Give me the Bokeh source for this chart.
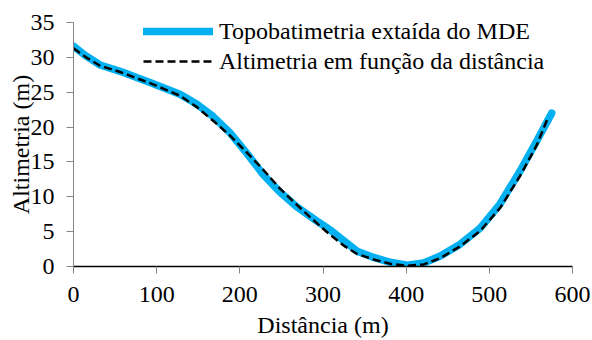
from bokeh.plotting import figure
from bokeh.models import Range1d, FixedTicker, Legend, LegendItem
from bokeh.embed import file_html
from bokeh.resources import INLINE

# Topobatimetria extaída do MDE (blue)
topo_x = [0, 15, 32, 56, 92, 128, 148, 168, 188, 208, 228, 248, 268, 288, 308, 325, 341, 361, 381, 401, 421, 441, 465, 489, 513, 537, 557, 575]
topo_y = [31.6, 30.2, 28.9, 28.0, 26.4, 24.7, 23.3, 21.5, 19.2, 16.3, 13.2, 10.7, 8.6, 6.9, 5.3, 3.7, 2.2, 1.3, 0.6, 0.2, 0.5, 1.5, 3.2, 5.5, 9.0, 13.7, 18.0, 22.0]

# Altimetria em função da distância (black dashed)
alt_x = [0, 15, 32, 56, 92, 128, 148, 168, 188, 208, 228, 248, 268, 288, 308, 325, 341, 361, 381, 401, 421, 441, 465, 489, 513, 537, 557, 570]
alt_y = [31.3, 30.0, 28.8, 27.9, 26.3, 24.5, 22.9, 20.9, 18.8, 16.4, 13.9, 11.2, 8.9, 6.7, 4.6, 3.0, 1.8, 1.0, 0.4, 0.1, 0.3, 1.2, 2.9, 5.1, 8.4, 13.0, 17.4, 21.2]

x_ticks = [0, 100, 200, 300, 400, 500, 600]
y_ticks = [0, 5, 10, 15, 20, 25, 30, 35]

FONT = "Liberation Serif"
FS = "24px"

p = figure(width=592, height=340, output_backend="svg", toolbar_location=None,
           x_range=Range1d(0, 600), y_range=Range1d(0, 35),
           min_border_left=73, min_border_right=20, min_border_top=22, min_border_bottom=69)

p.xgrid.visible = False
p.ygrid.visible = False
p.outline_line_color = None
p.background_fill_color = "white"
p.border_fill_color = "white"

r1 = p.line(topo_x, topo_y, line_color="#00B0F0", line_width=7.5, line_cap="round", line_join="round")
r2 = p.line(alt_x, alt_y, line_color="black", line_width=2.5, line_dash="8 4", line_join="round")

for ax in (p.xaxis[0], p.yaxis[0]):
    ax.major_label_text_font = FONT
    ax.major_label_text_font_size = FS
    ax.major_label_text_color = "black"
    ax.axis_label_text_font = FONT
    ax.axis_label_text_font_size = FS
    ax.axis_label_text_font_style = "normal"
    ax.axis_label_text_color = "black"
    ax.minor_tick_line_color = None
    ax.major_tick_in = 0
    ax.major_tick_out = 7
    ax.major_tick_line_color = "#868686"

p.xaxis[0].ticker = FixedTicker(ticks=x_ticks)
p.yaxis[0].ticker = FixedTicker(ticks=y_ticks)
p.xaxis[0].axis_line_color = "black"
p.xaxis[0].axis_line_width = 1.5
p.yaxis[0].axis_line_color = "#868686"
p.xaxis[0].axis_label = "Distância (m)"
p.yaxis[0].axis_label = "Altimetria (m)"
p.xaxis[0].major_label_standoff = 13
p.xaxis[0].axis_label_standoff = 7
p.yaxis[0].major_label_standoff = 12
p.yaxis[0].axis_label_standoff = -6

legend = Legend(items=[LegendItem(label="Topobatimetria extaída do MDE", renderers=[r1]),
                       LegendItem(label="Altimetria em função da distância", renderers=[r2])],
                location=(70, 190), orientation="vertical",
                glyph_width=70, glyph_height=30, label_height=30, spacing=0,
                padding=0, margin=0, label_standoff=6,
                border_line_color=None, background_fill_alpha=0,
                label_text_font=FONT, label_text_font_size=FS, label_text_color="black")
p.add_layout(legend)

open("out.html", "w").write(file_html(p, INLINE))
